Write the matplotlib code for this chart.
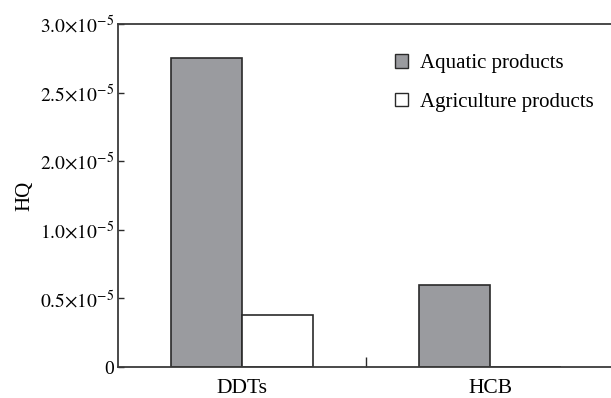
import numpy as np
import matplotlib
matplotlib.use("Agg")
import matplotlib.pyplot as plt
from matplotlib.patches import Patch

plt.rcParams['font.family'] = ['Liberation Serif', 'DejaVu Serif']
plt.rcParams['mathtext.fontset'] = 'stix'

categories = ["DDTs", "HCB"]
aquatic = [2.75e-5, 0.60e-5]
agriculture = [0.38e-5, 0.0]
tick_values = [0, 0.5e-5, 1.0e-5, 2.0e-5, 2.5e-5, 3.0e-5]
tick_labels = ["0", r"$0.5{\times}10^{-5}$", r"$1.0{\times}10^{-5}$",
               r"$2.0{\times}10^{-5}$", r"$2.5{\times}10^{-5}$", r"$3.0{\times}10^{-5}$"]

# the original axis puts its labelled ticks at equal spacing
slots = np.arange(len(tick_values))
def fwd(v):
    return np.interp(v, tick_values, slots)
def inv(p):
    return np.interp(p, slots, tick_values)

fig = plt.figure(figsize=(6.11, 3.98), dpi=100)
ax = fig.add_axes([118/611, 1-367/398, 496/611, 343/398])
ax.set_yscale('function', functions=(fwd, inv))

x = np.arange(len(categories))
w = 0.286
edge = '#2a2a2a'
ax.bar(x - w/2, aquatic, w, color='#9a9b9f', edgecolor=edge, linewidth=1.2, label='Aquatic products')
ax.bar(x + w/2, agriculture, w, color='white', edgecolor=edge, linewidth=1.2, label='Agriculture products')

ax.set_xlim(-0.5, 1.5)
ax.set_ylim(0, 3.0e-5)
ax.set_yticks(tick_values)
ax.set_yticklabels(tick_labels, fontsize=14)
ax.set_xticks([0.5])
ax.set_xticklabels([""])
ax.tick_params(axis='x', direction='in', length=7, width=1.0, color=edge)
ax.tick_params(axis='y', direction='in', length=4, width=1.0, color=edge, pad=3)
for i, c in enumerate(categories):
    ax.text(x[i], -0.036, c, transform=ax.get_xaxis_transform(), ha='center', va='top', fontsize=15.5)

for s in ['left', 'bottom', 'top']:
    ax.spines[s].set_linewidth(1.3)
    ax.spines[s].set_color('#3a3a3a')
ax.spines['right'].set_visible(False)

ax.set_ylabel("HQ", fontsize=15, labelpad=4)

handles = [Patch(facecolor='#9a9b9f', edgecolor=edge, label='Aquatic products'),
           Patch(facecolor='white', edgecolor=edge, label='Agriculture products')]
ax.legend(handles=handles, loc='upper left', bbox_to_anchor=(0.538, 0.942), frameon=False,
          fontsize=15, borderpad=0, handlelength=0.6, handleheight=0.6, handletextpad=0.6,
          labelspacing=0.95)

fig.savefig("out.png", dpi=100)
